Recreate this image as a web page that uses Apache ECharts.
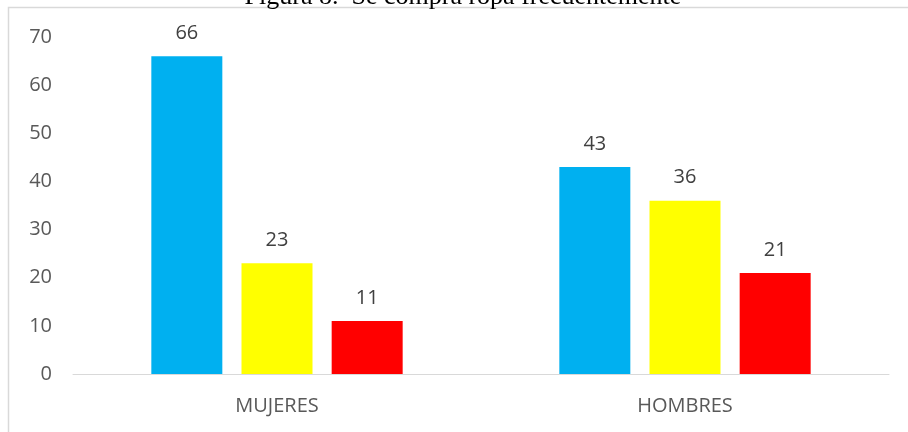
<!DOCTYPE html>
<html>
<head>
<meta charset="utf-8">
<script src="https://cdn.jsdelivr.net/npm/echarts@6/dist/echarts.min.js"></script>
<style>
  html, body { margin: 0; padding: 0; background: #fff; }
  #chart { width: 908px; height: 432px; }
</style>
</head>
<body>
<div id="chart"></div>
<script>
const categories = ['MUJERES', 'HOMBRES']
const seriesNames = ['Sí', 'A veces', 'No']
const seriesColors = ['#00B0F0', '#FFFF00', '#FF0000']
const values = [
  [66, 43],
  [23, 36],
  [11, 21]
]
const yTicks = [0, 10, 20, 30, 40, 50, 60, 70]

const chart = echarts.init(document.getElementById('chart'))

const labelFont = "'Open Sans', sans-serif"

const option = {
  animation: false,
  grid: {
    left: 73,
    right: 19,
    top: 37,
    bottom: 58
  },
  xAxis: {
    type: 'category',
    data: categories,
    axisLine: { lineStyle: { color: '#d9d9d9', width: 1 } },
    axisTick: { show: false },
    axisLabel: {
      color: '#595959',
      fontSize: 20,
      fontFamily: labelFont,
      margin: 22
    }
  },
  yAxis: {
    type: 'value',
    min: yTicks[0],
    max: yTicks[yTicks.length - 1],
    interval: 10,
    splitLine: { show: false },
    axisLine: { show: false },
    axisTick: { show: false },
    axisLabel: {
      color: '#595959',
      fontSize: 20,
      fontFamily: labelFont,
      margin: 21
    }
  },
  series: values.map((vals, i) => ({
    name: seriesNames[i],
    type: 'bar',
    data: vals,
    barWidth: 71,
    barGap: '27%',
    itemStyle: { color: seriesColors[i] },
    label: {
      show: true,
      position: 'top',
      distance: 13,
      color: '#404040',
      fontSize: 20,
      fontFamily: labelFont
    }
  })),
  graphic: [
    {
      type: 'text',
      x: 463,
      y: 10,
      style: {
        text: 'Figura 8.  Se compra ropa frecuentemente',
        font: "26px 'Liberation Serif', serif",
        fill: '#000',
        textAlign: 'center',
        textVerticalAlign: 'bottom'
      },
      silent: true
    },
    {
      type: 'rect',
      shape: { x: 8.5, y: 7.5, width: 1000, height: 1000 },
      style: { fill: '#fff', stroke: '#d9d9d9', lineWidth: 1.5 },
      z: -10,
      silent: true
    }
  ]
}

chart.setOption(option)
</script>
</body>
</html>
